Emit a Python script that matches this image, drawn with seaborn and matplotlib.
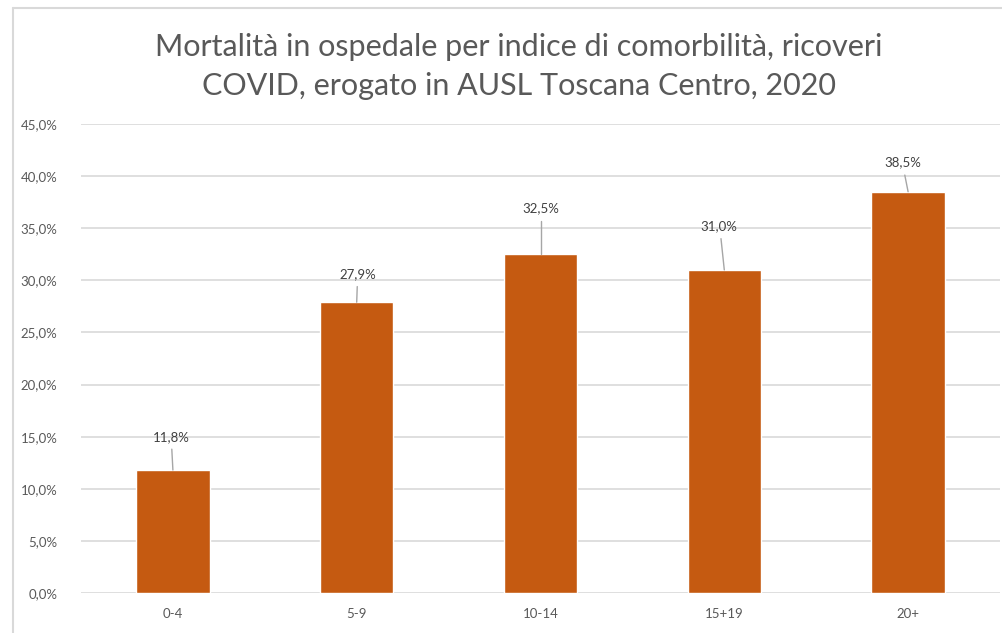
import numpy as np
import matplotlib
matplotlib.use("Agg")
import matplotlib.pyplot as plt
import seaborn as sns
from matplotlib.lines import Line2D

# Dati
categorie = ["0-4", "5-9", "10-14", "15+19", "20+"]
mortalita = [11.8, 27.9, 32.5, 31.0, 38.5]
etichette = ["11,8%", "27,9%", "32,5%", "31,0%", "38,5%"]
# posizione delle etichette (con linee di richiamo)
etich_x = [-0.01, 0.005, 0.0, -0.03, -0.03]
etich_y = [15.0, 30.6, 36.9, 35.2, 41.3]
tick_y = [0, 5, 10, 15, 20, 25, 30, 35, 40, 45]

sns.set_theme(style="white")
plt.rcParams['font.family'] = ['Lato', 'DejaVu Sans']

colore_barra = "#C55A11"
grigio_testo = "#595959"
grigio_linee = "#D9D9D9"

fig = plt.figure(figsize=(10.03, 6.33), dpi=100)
ax = fig.add_axes([81 / 1003, 1 - 593 / 633, 919 / 1003, 469 / 633])

sns.barplot(x=categorie, y=mortalita, color=colore_barra, width=0.4,
            saturation=1, ax=ax, zorder=3)

ax.set_ylim(0, 45)
ax.set_xlim(-0.5, 4.5)
ax.set_yticks(tick_y)
ax.set_yticklabels([f"{v:.1f}%".replace(".", ",") for v in tick_y])
ax.yaxis.grid(True, color=grigio_linee, linewidth=1.2, zorder=0)
ax.tick_params(axis="y", length=0, pad=17, labelsize=9.5, labelcolor=grigio_testo)
ax.tick_params(axis="x", length=0, pad=11, labelsize=9.5, labelcolor=grigio_testo)
ax.set_xlabel("")
ax.set_ylabel("")
for s in ax.spines.values():
    s.set_visible(False)

# etichette dati con linee di richiamo
for i, (v, t, dx, ly) in enumerate(zip(mortalita, etichette, etich_x, etich_y)):
    ax.plot([i, i + dx * 0.6], [v, ly - 1.2], color="#A6A6A6", linewidth=1.0, zorder=4)
    ax.text(i + dx, ly, t, ha="center", va="center", fontsize=9.5, color="#404040")

fig.text(519 / 1003, 1 - 33 / 633,
         "Mortalità in ospedale per indice di comorbilità, ricoveri\n"
         "COVID, erogato in AUSL Toscana Centro, 2020",
         ha="center", va="top", fontsize=22, color=grigio_testo,
         linespacing=1.5)

# cornice del grafico
fig.add_artist(Line2D([13 / 1003, 1], [1 - 8 / 633, 1 - 8 / 633],
                      transform=fig.transFigure, color=grigio_linee, linewidth=1.5))
fig.add_artist(Line2D([13 / 1003, 13 / 1003], [0, 1 - 8 / 633],
                      transform=fig.transFigure, color=grigio_linee, linewidth=1.5))

fig.savefig("out.png", dpi=100)
